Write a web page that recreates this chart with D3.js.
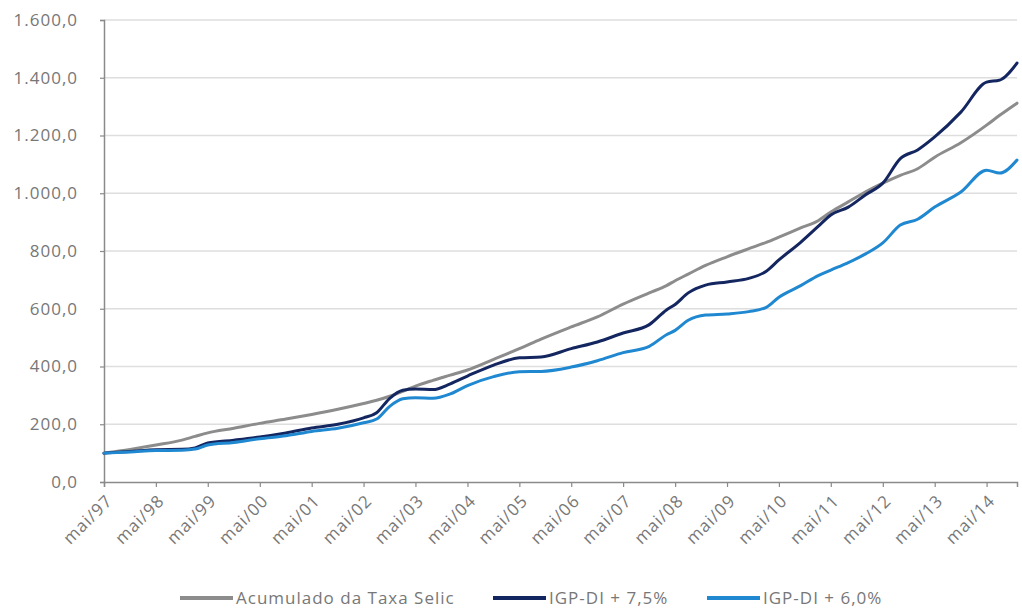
<!DOCTYPE html>
<html>
<head>
<meta charset="utf-8">
<script src="https://cdn.jsdelivr.net/npm/d3@7"></script>
<style>
  html, body { margin: 0; padding: 0; background: #fff; }
  svg { display: block; }
  text { font-family: "Open Sans", "Noto Sans", sans-serif; fill: #777; letter-spacing: 1px; }
</style>
</head>
<body>
<svg id="chart" width="1022" height="609"></svg>
<script>
// Monthly observation dates (base = 100 in May 1997)
const months = [
  "1997-05","1997-11","1998-05","1998-11","1999-02","1999-05","1999-11",
  "2000-05","2000-11","2001-05","2001-11","2002-05","2002-08","2002-11",
  "2003-02","2003-05","2003-09","2004-01","2004-05","2004-11","2005-05",
  "2005-10","2006-05","2006-11","2007-05","2007-11","2008-03","2008-05",
  "2008-08","2008-12","2009-05","2009-10","2010-02","2010-05","2010-10",
  "2011-02","2011-05","2011-09","2012-01","2012-05","2012-09","2013-01",
  "2013-05","2013-11","2014-05","2014-08","2014-12"
];

// Acumulado da Taxa Selic
const selic = [
  100, 113, 128, 145, 158, 170, 186,
  203, 218, 234, 252, 272, 283, 297,
  314, 332, 352, 370, 388, 425, 462,
  495, 537, 572, 616, 655, 680, 697,
  720, 750, 780, 808, 830, 848, 880,
  905, 935, 970, 1005, 1035, 1062, 1085,
  1125, 1175, 1236, 1270, 1312
];

// IGP-DI + 7,5%
const igp75 = [
  100, 106, 112, 113, 118, 135, 145,
  156, 170, 187, 200, 222, 240, 290,
  318, 322, 320, 340, 367, 405, 430,
  433, 462, 485, 516, 545, 596, 615,
  655, 682, 693, 705, 730, 769, 830,
  885, 925, 952, 995, 1035, 1120, 1150,
  1195, 1281, 1385, 1392, 1451
];

// IGP-DI + 6,0%
const igp60 = [
  100, 104, 109, 110, 114, 128, 137,
  150, 160, 175, 186, 205, 218, 262,
  288, 292, 290, 305, 334, 365, 382,
  383, 398, 420, 448, 470, 510, 525,
  560, 578, 582, 590, 605, 640, 680,
  715, 734, 760, 790, 828, 890, 910,
  952, 1004, 1080, 1070, 1115
];

const yTicks = [0, 200, 400, 600, 800, 1000, 1200, 1400, 1600];
const xTickMonths = [
  "1997-05","1998-05","1999-05","2000-05","2001-05","2002-05",
  "2003-05","2004-05","2005-05","2006-05","2007-05","2008-05",
  "2009-05","2010-05","2011-05","2012-05","2013-05","2014-05"
];
const xTickLabels = [
  "mai/97","mai/98","mai/99","mai/00","mai/01","mai/02",
  "mai/03","mai/04","mai/05","mai/06","mai/07","mai/08",
  "mai/09","mai/10","mai/11","mai/12","mai/13","mai/14"
];

const seriesNames = ["Acumulado da Taxa Selic", "IGP-DI + 7,5%", "IGP-DI + 6,0%"];
const seriesValues = [selic, igp75, igp60];
const seriesColors = ["#8c8c8c", "#142660", "#1f88d0"];

const parse = d3.timeParse("%Y-%m");
const dates = months.map(parse);

const svg = d3.select("#chart");
const plotLeft = 104, plotRight = 1017, plotTop = 20, plotBottom = 482;

const x = d3.scaleTime()
  .domain([parse("1997-05"), parse("2014-12")])
  .range([plotLeft, plotRight]);
const y = d3.scaleLinear().domain([0, 1600]).range([plotBottom, plotTop]);

const ptBR = d3.formatLocale({ decimal: ",", thousands: ".", grouping: [3], currency: ["R$", ""] });
const fmt = ptBR.format(",.1f");

// horizontal gridlines
svg.append("g")
  .selectAll("line")
  .data(yTicks.filter(d => d > 0))
  .join("line")
  .attr("x1", plotLeft).attr("x2", plotRight)
  .attr("y1", d => y(d)).attr("y2", d => y(d))
  .attr("stroke", "#dedede")
  .attr("stroke-width", 1.6);

// y axis
const yAxis = svg.append("g")
  .attr("transform", `translate(${plotLeft},0)`)
  .call(d3.axisLeft(y).tickValues(yTicks).tickFormat(fmt).tickSize(4).tickPadding(22));
yAxis.select(".domain").attr("stroke", "#8a8a8a").attr("stroke-width", 1.5);
yAxis.selectAll(".tick line").attr("stroke", "#8a8a8a").attr("stroke-width", 1.2);
yAxis.selectAll(".tick text")
  .attr("font-size", 17)
  .attr("fill", "#777")
  .style("font-family", "'Open Sans', sans-serif");

// x axis
const xTickDates = xTickMonths.map(parse);
const xAxis = svg.append("g")
  .attr("transform", `translate(0,${plotBottom})`)
  .call(d3.axisBottom(x).tickValues(xTickDates).tickSize(5)
    .tickFormat((d, i) => xTickLabels[i]));
xAxis.select(".domain").attr("stroke", "#8a8a8a").attr("stroke-width", 1.5);
xAxis.selectAll(".tick line").attr("stroke", "#8a8a8a").attr("stroke-width", 1.2);
xAxis.selectAll(".tick text")
  .attr("font-size", 17)
  .attr("fill", "#777")
  .style("font-family", "'Open Sans', sans-serif")
  .attr("text-anchor", "end")
  .attr("dy", null)
  .attr("y", 0)
  .attr("transform", "translate(9,20) rotate(-45)");

// series lines
const line = d3.line()
  .x((d, i) => x(dates[i]))
  .y(d => y(d))
  .curve(d3.curveMonotoneX);

svg.append("g")
  .selectAll("path")
  .data(seriesValues)
  .join("path")
  .attr("d", d => line(d))
  .attr("fill", "none")
  .attr("stroke", (d, i) => seriesColors[i])
  .attr("stroke-width", 3)
  .attr("stroke-linejoin", "round")
  .attr("stroke-linecap", "round");

// legend
const legendItems = [
  { x: 180, name: seriesNames[0], color: seriesColors[0] },
  { x: 493, name: seriesNames[1], color: seriesColors[1] },
  { x: 707, name: seriesNames[2], color: seriesColors[2] }
];
const legendY = 598;
const lg = svg.append("g").selectAll("g").data(legendItems).join("g")
  .attr("transform", d => `translate(${d.x},${legendY})`);
lg.append("line")
  .attr("x1", 0).attr("x2", 53).attr("y1", 0).attr("y2", 0)
  .attr("stroke", d => d.color).attr("stroke-width", 4);
lg.append("text")
  .attr("x", 56).attr("y", 0).attr("dy", "0.35em")
  .attr("font-size", 17)
  .attr("fill", "#777")
  .text(d => d.name);
</script>
</body>
</html>
